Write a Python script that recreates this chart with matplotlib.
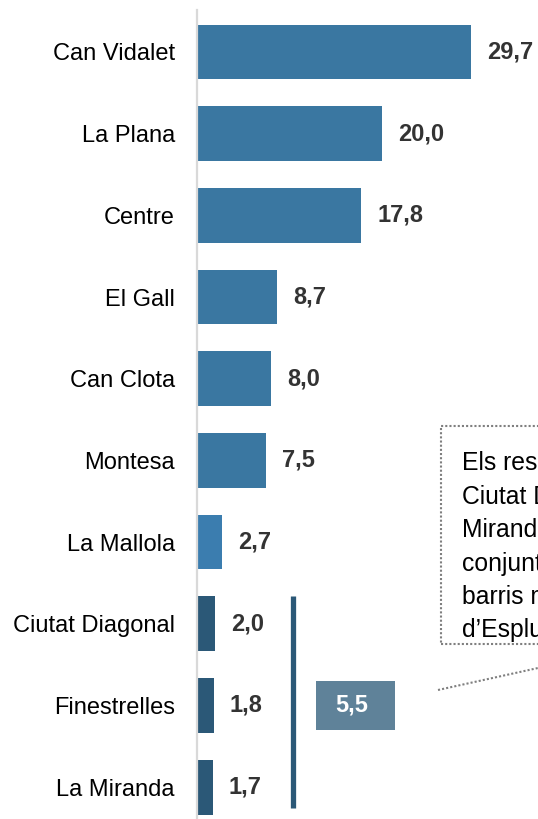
import matplotlib
matplotlib.use("Agg")
import matplotlib.pyplot as plt
from matplotlib.patches import Rectangle
from matplotlib.lines import Line2D

plt.rcParams['font.family'] = ['Liberation Sans', 'DejaVu Sans']

categories = ["Can Vidalet", "La Plana", "Centre", "El Gall", "Can Clota",
              "Montesa", "La Mallola", "Ciutat Diagonal", "Finestrelles", "La Miranda"]
values = [29.7, 20.0, 17.8, 8.7, 8.0, 7.5, 2.7, 2.0, 1.8, 1.7]
colors = ["#3A77A1"] * 6 + ["#3B7DAF"] + ["#2B5877"] * 3
group_idx = [7, 8, 9]
group_total = sum(values[i] for i in group_idx)
note_text = ("Els resultats de\nCiutat Diagonal, La\nMiranda i Finestrelles en\n"
             "conjunt, serien dels\nbarris més baixos\nd’Esplugues")

W, H = 538, 819
fig = plt.figure(figsize=(W / 100, H / 100), dpi=100)
ax = fig.add_axes([197 / W, 0, (W - 197) / W, (H - 10) / H])

ypos = list(range(len(categories)))
ax.barh(ypos, values, height=0.67, color=colors)
ax.set_xlim(0, (W - 197) / 9.226)
ax.set_ylim(9.39, -0.514)

for y, v in zip(ypos, values):
    ax.text(v + 1.75, y, f"{v:.1f}".replace(".", ","), va="center", ha="left",
            fontsize=17, fontweight="bold", color="#333333")

ax.set_yticks(ypos)
ax.set_yticklabels(categories, fontsize=17, color="black")
ax.tick_params(axis="y", length=0, pad=16)
ax.set_xticks([])
for s in ["top", "right", "bottom"]:
    ax.spines[s].set_visible(False)
ax.spines["left"].set_color("#D9D9D9")
ax.spines["left"].set_linewidth(1.6)

# group bracket line
ax.plot([10.4, 10.4], [group_idx[0] - 0.34, group_idx[-1] + 0.25],
        color="#2B5877", lw=3.8, solid_capstyle="butt")
# group total box
ax.barh([group_idx[1]], [8.56], left=12.9, height=0.59, color="#5F8299")
ax.text(12.9 + 8.56 / 2 - 0.4, group_idx[1], f"{group_total:.1f}".replace(".", ","),
        ha="center", va="center", fontsize=17, fontweight="bold", color="white")

# note box (dotted)
rect = Rectangle((441 / W, 1 - 644 / H), (W + 20 - 441) / W, (644 - 426) / H,
                 transform=fig.transFigure, fill=False, edgecolor="#7F7F7F",
                 linestyle=(0, (1, 1)), linewidth=1.5, clip_on=False)
fig.patches.append(rect)
fig.text(462 / W, 1 - 451 / H, note_text, ha="left", va="top", fontsize=17.8,
         color="black", linespacing=1.5)
fig.add_artist(Line2D([438 / W, 1.0], [1 - 690 / H, 1 - 668 / H], transform=fig.transFigure,
                      color="#7F7F7F", linestyle=(0, (1, 1)), linewidth=1.5))

fig.savefig("out.png", dpi=100)
